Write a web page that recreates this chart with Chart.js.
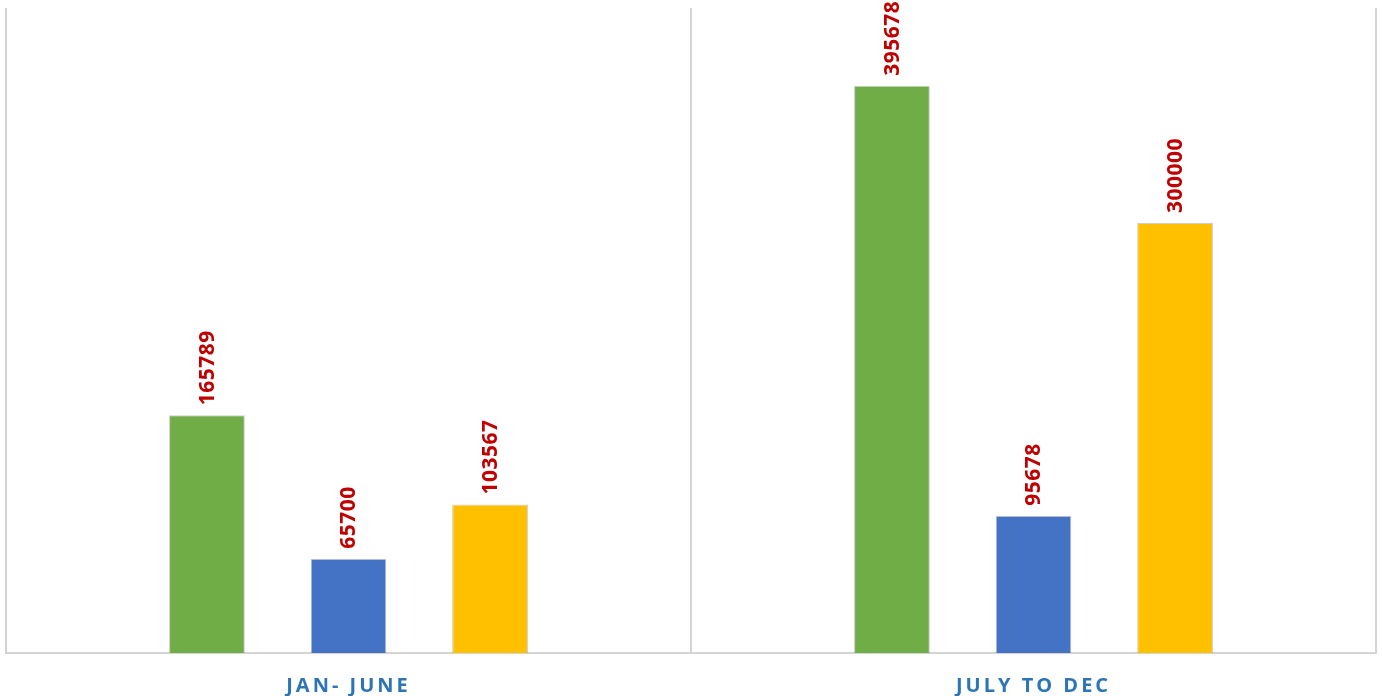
<!DOCTYPE html>
<html>
<head>
<meta charset="utf-8">
<script src="https://cdn.jsdelivr.net/npm/chart.js@4"></script>
<style>
  html, body { margin: 0; padding: 0; background: #fff; }
  #wrap { width: 1382px; height: 696px; }
</style>
</head>
<body>
<div id="wrap"><canvas id="myChart"></canvas></div>
<script>
// categories and series values
const periods = ['JAN- JUNE', 'JULY TO DEC'];
const greenValues = [165789, 395678];
const blueValues = [65700, 95678];
const yellowValues = [103567, 300000];
const yMax = 450000;

// spaced out category labels, red values above bars
const barValueLabels = {
  id: 'barValueLabels',
  beforeDraw(chart) {
    chart.ctx.letterSpacing = '3px';
  },
  beforeDatasetsDraw(chart) {
    chart.ctx.letterSpacing = '0px';
  },
  afterDatasetsDraw(chart) {
    const ctx = chart.ctx;
    ctx.save();
    ctx.fillStyle = '#C00000';
    ctx.font = 'bold 21px "Open Sans", sans-serif';
    ctx.letterSpacing = '0.5px';
    ctx.textAlign = 'left';
    ctx.textBaseline = 'middle';
    chart.data.datasets.forEach((ds, i) => {
      chart.getDatasetMeta(i).data.forEach((bar, j) => {
        ctx.save();
        ctx.translate(bar.x, bar.y - 10);
        ctx.rotate(-Math.PI / 2);
        ctx.fillText(String(ds.data[j]), 0, 1);
        ctx.restore();
      });
    });
    ctx.restore();
  }
};

let ctx = document.getElementById('myChart').getContext('2d');
let chart = new Chart(ctx, {
  type: 'bar',
  data: {
    labels: periods,
    datasets: [{
      data: greenValues,
      backgroundColor: '#70AD47',
      borderColor: 'rgba(0,0,0,0.2)',
      borderWidth: 1
    }, {
      data: blueValues,
      backgroundColor: '#4472C4',
      borderColor: 'rgba(0,0,0,0.2)',
      borderWidth: 1
    }, {
      data: yellowValues,
      backgroundColor: '#FFC000',
      borderColor: 'rgba(0,0,0,0.2)',
      borderWidth: 1
    }]
  },
  options: {
    responsive: true,
    maintainAspectRatio: false,
    animation: false,
    categoryPercentage: 0.62,
    barPercentage: 0.535,
    layout: { padding: { left: 6, right: 6, top: 8, bottom: 0 } },
    plugins: {
      legend: { display: false },
      tooltip: { enabled: false }
    },
    scales: {
      x: {
        grid: { color: '#d4d4d4', lineWidth: 2, drawTicks: false, offset: true },
        border: { color: '#d4d4d4', width: 2 },
        afterFit(scale) { scale.height = 43; },
        ticks: {
          color: '#2E75B6',
          padding: 21,
          font: { family: '"Open Sans", sans-serif', size: 20, weight: 'bold' }
        }
      },
      y: {
        display: false,
        min: 0,
        max: yMax
      }
    }
  },
  plugins: [barValueLabels]
});
</script>
</body>
</html>
